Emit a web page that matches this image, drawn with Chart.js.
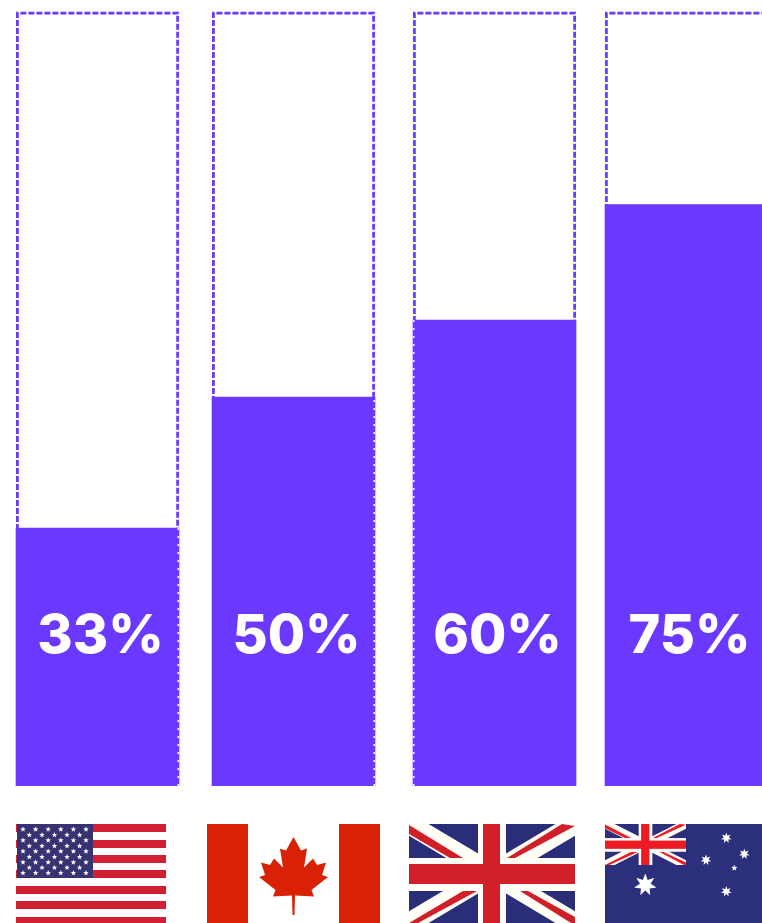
<!DOCTYPE html>
<html>
<head>
<meta charset="utf-8">
<title>Share by country</title>
<script src="https://cdn.jsdelivr.net/npm/chart.js@4/dist/chart.umd.min.js"></script>
<style>
	html, body {margin: 0; padding: 0; background: #fff; overflow: hidden;}
	#wrap {position: relative; width: 762px; height: 923px;}
	#flags {position: absolute; left: 0; top: 0; filter: blur(0.35px);}
</style>
</head>
<body>
<div id="wrap">
	<canvas id="chart"></canvas>
	<svg id="flags" width="762" height="923" viewBox="0 0 762 923" xmlns="http://www.w3.org/2000/svg"></svg>
</div>
<script>
const countries = ['United States', 'Canada', 'United Kingdom', 'Australia'];
const shares = [33, 50, 60, 75];

// columns are not evenly spaced, so x is a plain linear pixel-wide axis
const columnCentres = [97.5, 293.5, 494.5, 686.5];
const columnWidth = 163;
const purple = '#6b38ff';
const yMin = -0.5;
const yMax = 100;
const labelValue = 16.8;
// which edge of each column keeps the white nicks of the dashed outline
const nickEdges = ['right', 'right', 'left', null];

function columnBox(chart, i) {
	let bar = chart.getDatasetMeta(0).data[i];
	let y = chart.scales.y;
	return {
		left: bar.x - columnWidth / 2,
		right: bar.x + columnWidth / 2,
		top: y.getPixelForValue(yMax),
		fillTop: bar.y,
		bottom: y.getPixelForValue(yMin)
	};
}

// dashed frame behind each column, white nicks and percent labels on top of it
const columnDecor = {
	id: 'columnDecor',
	beforeDatasetsDraw(chart) {
		let ctx = chart.ctx;
		ctx.save();
		ctx.strokeStyle = purple;
		ctx.lineWidth = 2.75;
		ctx.setLineDash([6, 2]);
		shares.forEach((v, i) => {
			let b = columnBox(chart, i);
			ctx.beginPath();
			ctx.moveTo(b.left + 1.4, b.bottom);
			ctx.lineTo(b.left + 1.4, b.top + 1);
			ctx.lineTo(b.right - 1.4, b.top + 1);
			ctx.lineTo(b.right - 1.4, b.bottom);
			ctx.stroke();
		});
		ctx.restore();
	},
	afterDatasetsDraw(chart) {
		let ctx = chart.ctx;
		ctx.save();
		ctx.strokeStyle = '#fff';
		ctx.lineWidth = 1.5;
		ctx.setLineDash([2, 6]);
		shares.forEach((v, i) => {
			if (!nickEdges[i]) return;
			let b = columnBox(chart, i);
			let x = nickEdges[i] == 'right' ? b.right - 0.75 : b.left + 0.75;
			ctx.beginPath();
			ctx.moveTo(x, b.bottom);
			ctx.lineTo(x, b.fillTop);
			ctx.stroke();
		});
		ctx.setLineDash([]);
		ctx.fillStyle = '#fff';
		ctx.font = '800 54px Inter';
		ctx.textAlign = 'center';
		ctx.textBaseline = 'alphabetic';
		shares.forEach((v, i) => {
			let bar = chart.getDatasetMeta(0).data[i];
			ctx.fillText(v + '%', bar.x + 3, chart.scales.y.getPixelForValue(labelValue));
		});
		ctx.restore();
	}
};

new Chart(document.getElementById('chart'), {
	type: 'bar',
	data: {
		datasets: [{
			label: 'Share',
			data: shares.map((v, i) => ({x: columnCentres[i], y: v})),
			backgroundColor: purple,
			borderWidth: 0,
			barThickness: columnWidth,
			base: yMin
		}]
	},
	options: {
		responsive: true,
		maintainAspectRatio: false,
		animation: false,
		layout: {padding: {top: 12, bottom: 137}},
		plugins: {legend: {display: false}, tooltip: {enabled: false}},
		scales: {
			x: {type: 'linear', display: false, min: 0, max: 762, offset: false},
			y: {display: false, min: yMin, max: yMax}
		}
	},
	plugins: [columnDecor]
});

function star(cx, cy, r, inner, points) {
	let d = '';
	for (let i = 0; i < points * 2; i++) {
		let rad = i % 2 ? inner : r;
		let a = -Math.PI / 2 + i * Math.PI / points;
		d += (i ? 'L' : 'M') + (cx + rad * Math.cos(a)).toFixed(2) + ' ' + (cy + rad * Math.sin(a)).toFixed(2);
	}
	return '<path d="' + d + 'Z" fill="#fff"/>';
}

function usFlag() {
	let html = '<rect x="16" y="824" width="150" height="99" fill="#fff"/>';
	[824, 840, 855, 870, 886, 901, 917].forEach((y, i) => {
		html += '<rect x="16" y="' + y + '" width="150" height="' + (i == 6 ? 6 : 8) + '" fill="#d11f33"/>';
	});
	html += '<rect x="17" y="824" width="76" height="54" fill="#373372"/>';
	let rows = [829.3, 835, 840.3, 846, 851.3, 857, 862.3, 867.6, 873];
	rows.forEach((y, r) => {
		let xs = r % 2 ? [29.3, 42, 54.5, 67, 79.6] : [23, 35.6, 48.2, 60.8, 73.4, 86];
		xs.forEach(x => { html += star(x, y, 2.9, 1.2, 5); });
	});
	return html;
}

function canadaFlag() {
	// half of the leaf outline, mirrored around the flag's centre line
	let half = [[0, 837], [7.5, 850.5], [13.5, 848.5], [10.5, 867.5], [19.5, 858.5], [23.5, 865], [32.5, 862.5], [28.5, 875], [34.5, 877], [18, 890], [20.5, 896.5], [1.5, 895.5], [1, 915]];
	let cx = 293.5;
	let pts = half.map(p => (cx + p[0]) + ',' + p[1]).concat(half.slice().reverse().map(p => (cx - p[0]) + ',' + p[1]));
	return '<rect x="207" y="824" width="41" height="99" fill="#d92205"/>' +
		'<rect x="339" y="824" width="41" height="99" fill="#d92205"/>' +
		'<polygon points="' + pts.join(' ') + '" fill="#d92205"/>';
}

// drawn on a 166x99 box, stretched to whatever size the flag needs
function unionJack(x, y, w, h, navy, red) {
	return '<svg x="' + x + '" y="' + y + '" width="' + w + '" height="' + h + '" viewBox="0 0 166 99" preserveAspectRatio="none">' +
		'<rect width="166" height="99" fill="' + navy + '"/>' +
		'<path d="M0 0L166 99M166 0L0 99" stroke="#fffff8" stroke-width="20"/>' +
		'<polygon points="0,1 0,10 41,34 54,34" fill="' + red + '"/>' +
		'<polygon points="153,0 166,2 106,34 98,34" fill="' + red + '"/>' +
		'<polygon points="54,67 68,67 9,99 0,99" fill="' + red + '"/>' +
		'<polygon points="111,67 119,67 166,93 166,99 162,99" fill="' + red + '"/>' +
		'<rect x="69" width="28" height="99" fill="#fffff8"/><rect y="34" width="166" height="33" fill="#fffff8"/>' +
		'<rect x="74" width="17" height="99" fill="' + red + '"/><rect y="40" width="166" height="20" fill="' + red + '"/>' +
		'</svg>';
}

function australiaFlag() {
	return '<rect x="605" y="824" width="157" height="99" fill="#2b2f7c"/>' +
		unionJack(605, 824, 81, 41, '#2b2f7c', '#ed1c24') +
		star(645.3, 885, 11.5, 5.5, 7) +
		star(726.3, 838, 5.5, 2.6, 7) +
		star(706, 860, 5.5, 2.6, 7) +
		star(744.3, 854, 5.5, 2.6, 7) +
		star(734.3, 868, 3.2, 1.4, 5) +
		star(726.3, 891.5, 5.5, 2.6, 7);
}

const flagBuilders = [usFlag, canadaFlag, () => unionJack(409, 824, 166, 99, '#2a2d78', '#d11f29'), australiaFlag];
document.getElementById('flags').innerHTML = countries.map((name, i) =>
	'<g aria-label="' + name + '">' + flagBuilders[i]() + '</g>').join('');
</script>
</body>
</html>
